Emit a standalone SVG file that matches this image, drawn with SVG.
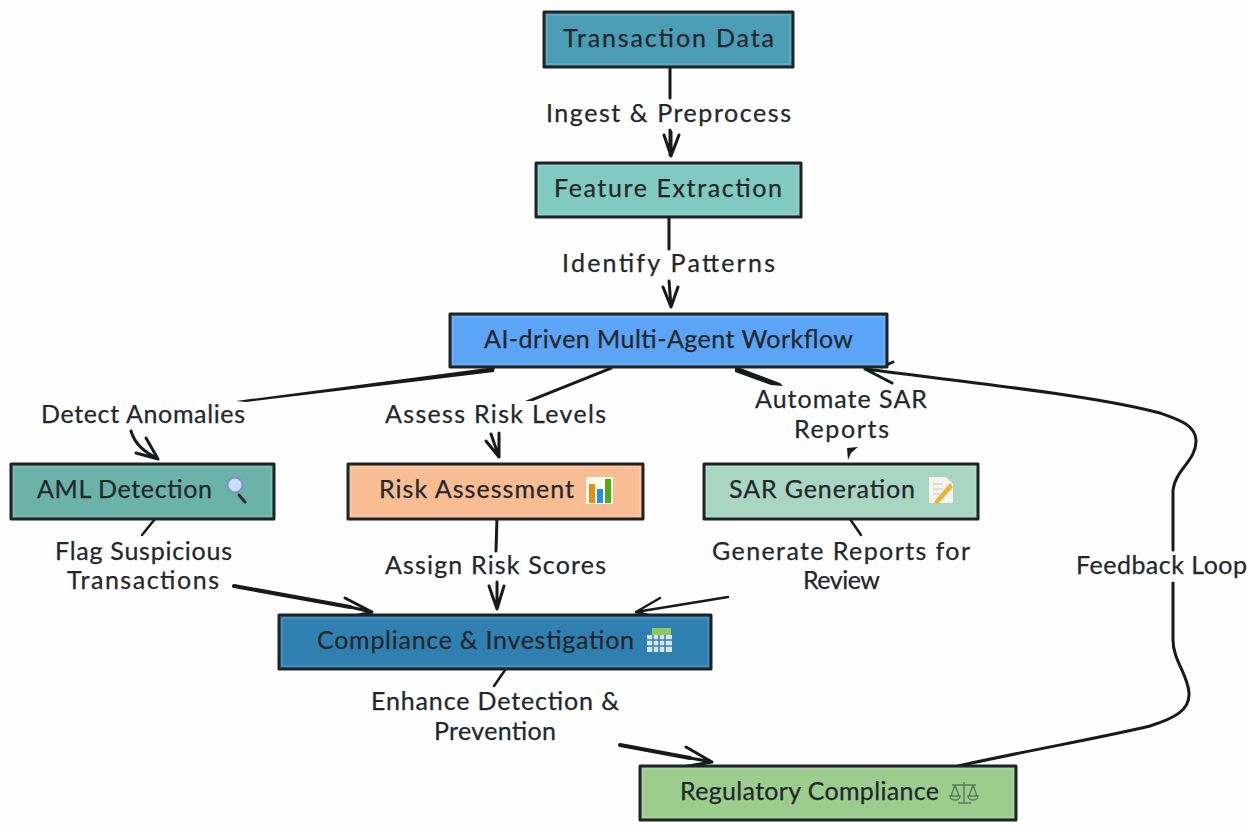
<svg xmlns="http://www.w3.org/2000/svg" width="1248" height="832" viewBox="0 0 1248 832">
<style>
text{font-family:"Lato","Open Sans","DejaVu Sans",sans-serif;font-size:25px;fill:#23272b;stroke:#23272b;stroke-width:.25;text-anchor:start}
.box{stroke:#1f2326;stroke-width:3;stroke-linejoin:round}
.in{fill:none;stroke:#fff;stroke-opacity:.14;stroke-width:1.5}
.c{fill:none;stroke:#17191b;stroke-width:3;stroke-linecap:round;stroke-linejoin:round}
.h{stroke-width:4}
.n{stroke-width:2.5}
.t{fill:#17191b;stroke:none}
</style>
<rect width="1248" height="832" fill="#fefefe"/>
<g id="connectors">
<path class="c" d="M670 67V98M670 130V155M664 135L671 156L679 135M671 132V155"/>
<path class="c" d="M669 217V249M669 281L671 306M663 287L671 307L678 287"/>
<path class="t" d="M495 367L494 372L246 402L236 401Z"/>
<path class="c" d="M131 431C135 445 145 452 158 459M146 438L158 459L136 453"/>
<path class="t" d="M610 367L613 369L533 401L525 401Z"/>
<path class="c" d="M499 433V457M486 441L499 457M491 434L499 457"/>
<path class="t" d="M735 366L780 383L783 386L771 385L735 372Z"/>
<path class="t" d="M847 448L858 447L851 453L848 460Z"/>
<path class="c n" d="M155 519L142 535"/>
<path class="c h" d="M234 586L350 607"/>
<path class="c" d="M350 607L372 612M345 598L372 612L342 619"/>
<path class="c" d="M497 517L496 551M497 582V608M489 586L497 609L504 586"/>
<path class="c n" d="M850 519L861 535"/>
<path class="c n" d="M728 597L636 612M660 598L636 612L665 619"/>
<path class="c n" d="M505 670L494 686"/>
<path class="c h" d="M620 745L690 758"/>
<path class="c" d="M690 758L712 762M686 747L712 762L682 767"/>
<path class="c" d="M958 766C1040 748 1100 738 1150 726C1175 718 1190 710 1189 693C1188 675 1173 660 1173 640V583"/>
<path class="c" d="M1173 550V490C1175 470 1197 460 1196 440C1195 425 1180 420 1160 413C1100 397 1007 387 865 369M893 362L882 367M892 383L865 369"/>
</g>
<g id="transaction-data"><rect class="box" x="544" y="12" width="249" height="55" fill="#4b9db6"/><rect class="in" x="547" y="15" width="243" height="49"/><text x="563" y="47" textLength="211">Transaction Data</text></g>
<g id="feature-extraction"><rect class="box" x="536" y="163" width="265" height="54" fill="#80cac1"/><rect class="in" x="539" y="166" width="259" height="48"/><text x="554" y="197" textLength="228">Feature Extraction</text></g>
<g id="workflow"><rect class="box" x="450" y="314" width="437" height="53" fill="#5ba4f6"/><rect class="in" x="453" y="317" width="431" height="47"/><text x="484" y="348" textLength="369">AI-driven Multi-Agent Workflow</text></g>
<g id="aml-detection"><rect class="box" x="11" y="464" width="263" height="55" fill="#6bb3a9"/><rect class="in" x="14" y="467" width="257" height="49"/><text x="37" y="498" textLength="175">AML Detection</text>
<path d="M239 495L245 502" stroke="#2b2f33" stroke-width="3" stroke-linecap="round"/><circle cx="235" cy="485" r="7.5" fill="#c9def7" stroke="#7e93c4" stroke-width="2"/></g>
<g id="risk-assessment"><rect class="box" x="348" y="464" width="295" height="55" fill="#f8bd93"/><rect class="in" x="351" y="467" width="289" height="49"/><text x="379" y="498" textLength="195">Risk Assessment</text>
<rect x="586" y="477" width="27" height="27" fill="#fbf8ef"/><rect x="589" y="484" width="6" height="19" fill="#e09018"/><rect x="597" y="489" width="6" height="14" fill="#2a8fe0"/><rect x="605" y="479" width="6" height="24" fill="#55a818"/></g>
<g id="sar-generation"><rect class="box" x="704" y="464" width="274" height="55" fill="#a8d6c2"/><rect class="in" x="707" y="467" width="268" height="49"/><text x="729" y="498" textLength="186">SAR Generation</text>
<path d="M929 477H946L953 484V503H929Z" fill="#f4f3ee"/><path d="M933 484H943M933 489H943M933 494H940" stroke="#c5c5c0"/><path d="M934 502L950 483L953 487L938 504Z" fill="#f0b030"/></g>
<g id="compliance"><rect class="box" x="279" y="615" width="432" height="54" fill="#2f80b1"/><rect class="in" x="282" y="618" width="426" height="48"/><text x="317" y="649" textLength="317">Compliance &amp; Investigation</text>
<rect x="647" y="635" width="25" height="17" fill="#d8e6ee"/><rect x="652" y="628" width="19" height="7" fill="#8fc860"/><path d="M647 640H672M647 646H672M653 635V652M659 635V652M665 635V652" stroke="#2f80b1" stroke-width="1.5"/></g>
<g id="regulatory"><rect class="box" x="640" y="766" width="376" height="54" fill="#9ccd8f"/><rect class="in" x="643" y="769" width="370" height="48"/><text x="680" y="800" textLength="259">Regulatory Compliance</text>
<path d="M964 782V803M958 803H971M952 785H976M955 785L951 796M955 785L959 796M973 785L969 796M973 785L977 796M950 796A5 4 0 0 0 960 796ZM968 796A5 4 0 0 0 978 796Z" fill="none" stroke="#5a7c58" stroke-width="1.4"/></g>
<g id="labels">
<text x="546" y="122" textLength="245">Ingest &amp; Preprocess</text>
<text x="562" y="272" textLength="213">Identify Patterns</text>
<text x="41" y="423" textLength="204">Detect Anomalies</text>
<text x="385" y="423" textLength="221">Assess Risk Levels</text>
<text x="755" y="408" textLength="172">Automate SAR</text>
<text x="794" y="438" textLength="95">Reports</text>
<text x="55" y="560" textLength="177">Flag Suspicious</text>
<text x="67" y="589" textLength="152">Transactions</text>
<text x="385" y="574" textLength="221">Assign Risk Scores</text>
<text x="712" y="560" textLength="258">Generate Reports for</text>
<text x="803" y="589" textLength="77">Review</text>
<text x="1076" y="574" textLength="171">Feedback Loop</text>
<text x="371" y="710" textLength="248">Enhance Detection &amp;</text>
<text x="434" y="740" textLength="122">Prevention</text>
</g>
</svg>
